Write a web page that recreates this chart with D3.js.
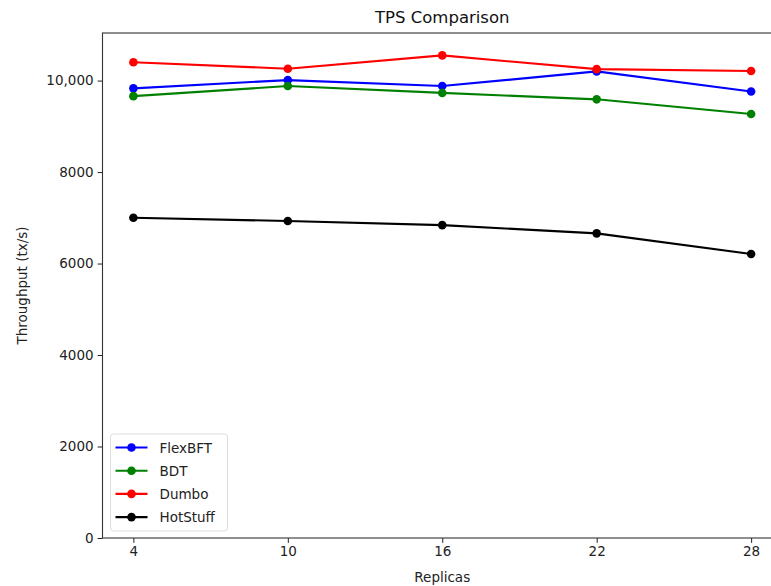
<!DOCTYPE html>
<html>
<head>
<meta charset="utf-8">
<script src="https://cdn.jsdelivr.net/npm/d3@7"></script>
<style>
  body { margin: 0; background: #fff; }
  svg { display: block; font-family: "DejaVu Sans", sans-serif; }
</style>
</head>
<body>
<div id="chart"></div>
<script>
// data
var replicas = [4, 10, 16, 22, 28];
var flexbft  = [9830, 10010, 9880, 10200, 9760];
var bdt      = [9660, 9880, 9730, 9590, 9270];
var dumbo    = [10400, 10260, 10550, 10250, 10210];
var hotstuff = [7000, 6930, 6840, 6660, 6210];
var yTicks = [0, 2000, 4000, 6000, 8000, 10000];

var series = [
  { name: "FlexBFT", color: "blue", values: flexbft },
  { name: "BDT", color: "green", values: bdt },
  { name: "Dumbo", color: "red", values: dumbo },
  { name: "HotStuff", color: "black", values: hotstuff }
];

var width = 771, height = 586;
var plotLeft = 102.5, plotRight = 782, plotTop = 33, plotBottom = 538;

var svg = d3.select("#chart").append("svg")
    .attr("width", width)
    .attr("height", height);

var xScale = d3.scaleLinear()
    .domain([2.8, 29.2])
    .range([plotLeft, plotRight]);

var yScale = d3.scaleLinear()
    .domain([0, 11040])
    .range([plotBottom, plotTop]);

function fmt(d) {
    return d >= 10000 ? d3.format(",")(d) : String(d);
}

// axes
var xAxis = d3.axisBottom(xScale).tickValues(replicas).tickSize(4.9).tickPadding(4);
var yAxis = d3.axisLeft(yScale).tickValues(yTicks).tickFormat(fmt).tickSize(4.9).tickPadding(4);

var gx = svg.append("g")
    .attr("transform", "translate(0," + plotBottom + ")")
    .call(xAxis);
var gy = svg.append("g")
    .attr("transform", "translate(" + plotLeft + ",0)")
    .call(yAxis);

[gx, gy].forEach(function (g) {
    g.select(".domain").remove();
    g.selectAll("line").attr("stroke", "#222").attr("stroke-width", 1);
    g.selectAll("text").attr("font-size", 13.5).attr("fill", "#222")
        .attr("font-family", "DejaVu Sans, sans-serif");
});

// frame
svg.append("rect")
    .attr("x", plotLeft).attr("y", plotTop)
    .attr("width", plotRight - plotLeft).attr("height", plotBottom - plotTop)
    .attr("fill", "none").attr("stroke", "#333").attr("stroke-width", 1.1);

// lines
var line = d3.line()
    .x(function (d, i) { return xScale(replicas[i]); })
    .y(function (d) { return yScale(d); });

series.forEach(function (s) {
    svg.append("path")
        .datum(s.values)
        .attr("d", line)
        .attr("fill", "none")
        .attr("stroke", s.color)
        .attr("stroke-width", 2.1);
    svg.selectAll(".dot-" + s.name)
        .data(s.values)
        .enter().append("circle")
        .attr("cx", function (d, i) { return xScale(replicas[i]); })
        .attr("cy", function (d) { return yScale(d); })
        .attr("r", 4.3)
        .attr("fill", s.color);
});

// title and labels
svg.append("text")
    .attr("x", (plotLeft + plotRight) / 2).attr("y", 23)
    .attr("text-anchor", "middle")
    .attr("font-size", 16.5).attr("fill", "#111")
    .text("TPS Comparison");

svg.append("text")
    .attr("x", (plotLeft + plotRight) / 2).attr("y", 582)
    .attr("text-anchor", "middle")
    .attr("font-size", 13.5).attr("fill", "#222")
    .text("Replicas");

svg.append("text")
    .attr("transform", "translate(27," + ((plotTop + plotBottom) / 2) + ") rotate(-90)")
    .attr("text-anchor", "middle")
    .attr("font-size", 13.5).attr("fill", "#222")
    .text("Throughput (tx/s)");

// legend
var legend = svg.append("g").attr("transform", "translate(110.5,434)");
legend.append("rect")
    .attr("width", 117).attr("height", 97)
    .attr("rx", 3)
    .attr("fill", "white").attr("fill-opacity", 0.8)
    .attr("stroke", "#ddd");

series.forEach(function (s, i) {
    var y = 13.5 + i * 23.2;
    legend.append("line")
        .attr("x1", 5).attr("x2", 37)
        .attr("y1", y).attr("y2", y)
        .attr("stroke", s.color).attr("stroke-width", 2.1);
    legend.append("circle")
        .attr("cx", 21).attr("cy", y).attr("r", 4.3)
        .attr("fill", s.color);
    legend.append("text")
        .attr("x", 49).attr("y", y + 5)
        .attr("font-size", 13.5).attr("fill", "#222")
        .text(s.name);
});
</script>
</body>
</html>
